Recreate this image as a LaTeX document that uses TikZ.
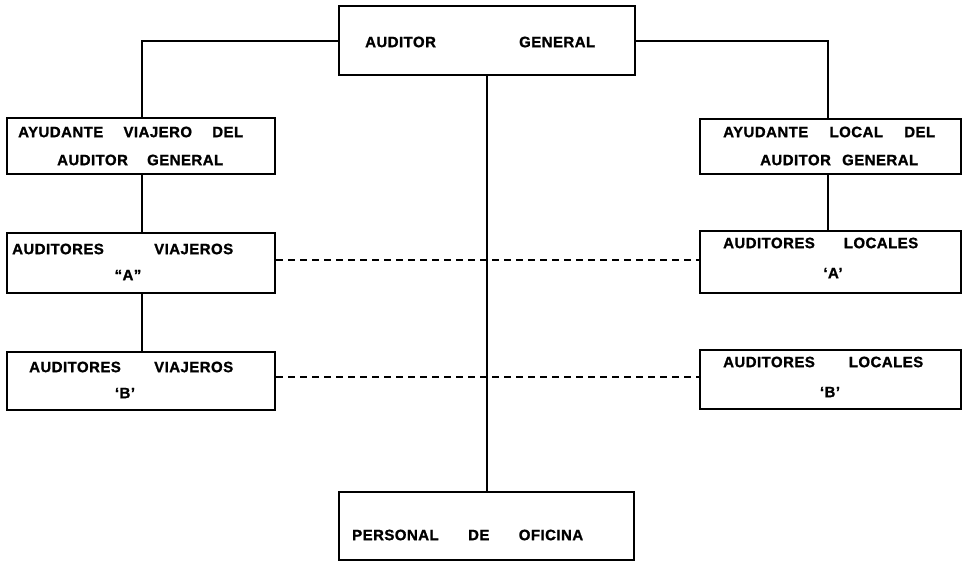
\documentclass[tikz,border=0pt]{standalone}
\usepackage{fontspec}
\setmainfont{Liberation Sans}[BoldFeatures={LetterSpace=3,FakeBold=1.2}]
\begin{document}
\begin{tikzpicture}[x=1pt,y=-1pt,
  box/.style={draw, line width=2.2pt, rectangle, inner sep=0pt, anchor=center},
  conn/.style={line width=2pt},
  dash line/.style={line width=1.4pt, dash pattern=on 7pt off 5pt},
  lbl/.style={inner sep=0pt, font=\fontsize{15}{15}\selectfont\bfseries, anchor=west},
  qlbl/.style={inner sep=0pt, font=\fontsize{15}{15}\selectfont\bfseries, anchor=center}]
\useasboundingbox (0,0) rectangle (964,562);
% boxes
\node[box, minimum width=296pt, minimum height=69pt] (top) at (487,40.5) {};
\node[box, minimum width=268pt, minimum height=56pt] (L1) at (141,146) {};
\node[box, minimum width=268pt, minimum height=60pt] (L2) at (141,263) {};
\node[box, minimum width=268pt, minimum height=58pt] (L3) at (141,381) {};
\node[box, minimum width=261pt, minimum height=55pt] (R1) at (830.5,146.5) {};
\node[box, minimum width=261pt, minimum height=62pt] (R2) at (830.5,262) {};
\node[box, minimum width=261pt, minimum height=59pt] (R3) at (830.5,379.5) {};
\node[box, minimum width=295pt, minimum height=68pt] (bot) at (486.5,526) {};
% texts
\node[lbl] (t0) at (365,42) {\makebox[230pt][s]{AUDITOR GENERAL}};
\node[lbl] (t1a) at (18,132) {\makebox[225pt][s]{AYUDANTE VIAJERO DEL}};
\node[lbl] (t1b) at (57,160) {\makebox[166pt][s]{AUDITOR GENERAL}};
\node[lbl] (t2a) at (12,249) {\makebox[221pt][s]{AUDITORES VIAJEROS}};
\node[qlbl] (t2b) at (128,275) {“A”};
\node[lbl] (t3a) at (29,367) {\makebox[204pt][s]{AUDITORES VIAJEROS}};
\node[qlbl] (t3b) at (125,393) {‘B’};
\node[lbl] (t4a) at (723,132) {\makebox[212pt][s]{AYUDANTE LOCAL DEL}};
\node[lbl] (t4b) at (760,160) {\makebox[158pt][s]{AUDITOR GENERAL}};
\node[lbl] (t5a) at (723,243) {\makebox[195pt][s]{AUDITORES LOCALES}};
\node[qlbl] (t5b) at (833,273) {‘A’};
\node[lbl] (t6a) at (723,362) {\makebox[200pt][s]{AUDITORES LOCALES}};
\node[qlbl] (t6b) at (830,392) {‘B’};
\node[lbl] (t7) at (352,535) {\makebox[231pt][s]{PERSONAL DE OFICINA}};
% connectors
\coordinate (lx) at (142,0);
\coordinate (rx) at (828,0);
\draw[conn] (top.west) -| (lx |- L1.north);
\draw[conn] (top.east) -| (rx |- R1.north);
\draw[conn] (lx |- L1.south) -- (lx |- L2.north);
\draw[conn] (lx |- L2.south) -- (lx |- L3.north);
\draw[conn] (rx |- R1.south) -- (rx |- R2.north);
\draw[conn] (top.south -| bot.north) -- (bot.north);
\coordinate (d1) at (0,260);
\coordinate (d2) at (0,377);
\draw[dash line] (L2.east |- d1) -- (R2.west |- d1);
\draw[dash line] (L3.east |- d2) -- (R3.west |- d2);
\end{tikzpicture}
\end{document}
